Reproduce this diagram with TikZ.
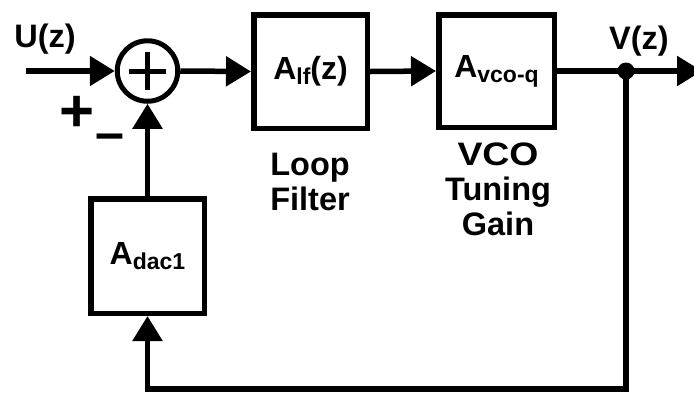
\documentclass[tikz,border=0pt]{standalone}
\usepackage{fontspec}
\setmainfont{Liberation Sans}
\usetikzlibrary{arrows.meta}
\newcommand{\sbx}[1]{\raisebox{-5pt}{\fontsize{23}{23}\selectfont #1}}
\begin{document}
\begin{tikzpicture}[x=1pt,y=-1pt,line width=5.5pt,
  blk/.style={draw, line width=5.5pt, minimum width=113.5pt, minimum height=113.5pt, inner sep=0pt,
              font=\fontsize{32}{32}\selectfont\bfseries},
  sumc/.style={draw, circle, line width=5pt, minimum size=60.5pt, inner sep=0pt},
  sig/.style={-{Triangle[length=25pt,width=29pt]}},
  lbl/.style={font=\fontsize{32.5}{35}\selectfont\bfseries, inner sep=0pt, align=center},
  sgn/.style={font=\fontsize{60}{60}\selectfont\bfseries, inner sep=0pt}]
\useasboundingbox (0,0) rectangle (694,392);
\clip (0,0) rectangle (694,392);
\fill[white] (0,0) rectangle (694,392);
% blocks
\node[sumc] (sum) at (147.5,71) {};
\node[blk] (lf) at (310.5,71.5) {A\sbx{lf}(z)};
\node[blk, minimum width=115.5pt, minimum height=112.5pt] (vco) at (496.5,71) {A\sbx{vco-q}};
\node[blk, minimum height=114.5pt] (dac) at (147.5,256) {A\sbx{dac1}\hspace{12pt}};
% plus in summer
\draw[line width=5pt] ([xshift=-18.5pt]sum.center) -- ([xshift=18.5pt]sum.center);
\draw[line width=5pt] ([yshift=-19pt]sum.center) -- ([yshift=19pt]sum.center);
% labels
\node[lbl, anchor=base] (u) at (45,47) {U(z)};
\node[lbl, anchor=base] (v) at (639,49) {V(z)};
\node[lbl, anchor=base] (lft) at (310,210) {Loop\\Filter};
\node[lbl, anchor=base] (vcot) at (498,235) {\scalebox{1.15}[1]{VCO}\\Tuning\\Gain};
\node[sgn] (pl) at (77,114) {+};
\node[sgn, font=\fontsize{52}{52}\selectfont\bfseries] (mi) at (110,142) {\char"2013};
% coordinates
\coordinate (in) at (26,71);
\coordinate (out) at (702,71);
\coordinate (tap) at (626,71);
\coordinate (br) at (626,389);
\coordinate (bl) at (147.5,389);
% connectors
\draw[sig] (in) -- (sum.west);
\draw[sig] (sum.east) -- (lf.west);
\draw[sig] (lf.east) -- (vco.west);
\draw[sig] (vco.east) -- (out);
\draw[sig] (dac.north) -- (sum.south);
\draw[sig] (tap) -- (br) -- (bl) -- (dac.south);
\fill (tap) circle (8.5pt);
\end{tikzpicture}
\end{document}
